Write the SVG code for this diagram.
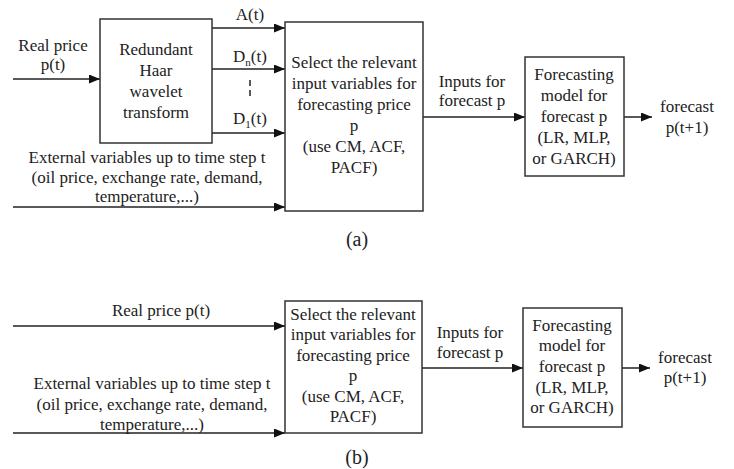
<svg xmlns="http://www.w3.org/2000/svg" width="734" height="469" viewBox="0 0 734 469">
<style>
text{font-family:"Liberation Serif","Times New Roman",serif;font-size:17px;fill:#222;text-anchor:middle}
.box{fill:#fff;stroke:#333;stroke-width:1.5}
.ln{stroke:#222;stroke-width:1.5;fill:none}
.arr{marker-end:url(#ah)}
.cap{font-size:20px}
</style>
<defs>
<marker id="ah" markerWidth="12" markerHeight="10" refX="11" refY="4.5" orient="auto" markerUnits="userSpaceOnUse">
<path d="M0,0 L11,4.5 L0,9 z" fill="#111"/>
</marker>
</defs>

<g id="connectors">
<line class="ln arr" x1="13" y1="79" x2="100" y2="79"/>
<line class="ln arr" x1="212" y1="28" x2="285" y2="28"/>
<line class="ln arr" x1="212" y1="69" x2="285" y2="69"/>
<line class="ln arr" x1="212" y1="133" x2="285" y2="133"/>
<line class="ln" x1="250" y1="80" x2="250" y2="100" stroke-dasharray="6,4"/>
<line class="ln arr" x1="13" y1="207" x2="285" y2="207"/>
<line class="ln arr" x1="423" y1="117" x2="525" y2="117"/>
<line class="ln arr" x1="624" y1="117" x2="652" y2="117"/>
<line class="ln arr" x1="13" y1="326" x2="285" y2="326"/>
<line class="ln arr" x1="13" y1="433" x2="285" y2="433"/>
<line class="ln arr" x1="422" y1="368" x2="523" y2="368"/>
<line class="ln arr" x1="622" y1="368" x2="650" y2="368"/>
</g>

<g id="labels">
<text x="53" y="51">Real price</text>
<text x="53" y="70">p(t)</text>
<text x="250" y="20">A(t)</text>
<text x="250" y="62">D<tspan font-size="11" dy="4">n</tspan><tspan dy="-4">(t)</tspan></text>
<text x="250" y="124">D<tspan font-size="11" dy="4">1</tspan><tspan dy="-4">(t)</tspan></text>
<text x="147" y="163">External variables up to time step t</text>
<text x="147" y="183">(oil price, exchange rate, demand,</text>
<text x="147" y="202">temperature,...)</text>
<text x="472" y="87">Inputs for</text>
<text x="472" y="106">forecast p</text>
<text x="687" y="112">forecast</text>
<text x="687" y="133">p(t+1)</text>
<text class="cap" x="357" y="246">(a)</text>
<text x="161" y="316">Real price p(t)</text>
<text x="152" y="389">External variables up to time step t</text>
<text x="152" y="410">(oil price, exchange rate, demand,</text>
<text x="152" y="430">temperature,...)</text>
<text x="470" y="338">Inputs for</text>
<text x="470" y="358">forecast p</text>
<text x="685" y="363">forecast</text>
<text x="685" y="383">p(t+1)</text>
<text class="cap" x="357" y="464">(b)</text>
</g>

<g id="wavelet">
<rect class="box" x="100" y="19" width="112" height="124"/>
<text x="156" y="55">Redundant</text>
<text x="156" y="76">Haar</text>
<text x="156" y="97">wavelet</text>
<text x="156" y="118">transform</text>
</g>

<g id="select-a">
<rect class="box" x="285" y="22" width="138" height="189"/>
<text x="354" y="68">Select the relevant</text>
<text x="354" y="89">input variables for</text>
<text x="354" y="110">forecasting price</text>
<text x="354" y="131">p</text>
<text x="354" y="152">(use CM, ACF,</text>
<text x="354" y="173">PACF)</text>
</g>

<g id="model-a">
<rect class="box" x="525" y="57" width="99" height="119"/>
<text x="574" y="80">Forecasting</text>
<text x="574" y="101">model for</text>
<text x="574" y="122">forecast p</text>
<text x="574" y="143">(LR, MLP,</text>
<text x="574" y="164">or GARCH)</text>
</g>

<g id="select-b">
<rect class="box" x="285" y="301" width="137" height="132"/>
<text x="353" y="320">Select the relevant</text>
<text x="353" y="340">input variables for</text>
<text x="353" y="361">forecasting price</text>
<text x="353" y="381">p</text>
<text x="353" y="402">(use CM, ACF,</text>
<text x="353" y="422">PACF)</text>
</g>

<g id="model-b">
<rect class="box" x="523" y="308" width="99" height="119"/>
<text x="572" y="331">Forecasting</text>
<text x="572" y="351">model for</text>
<text x="572" y="372">forecast p</text>
<text x="572" y="393">(LR, MLP,</text>
<text x="572" y="413">or GARCH)</text>
</g>
</svg>
